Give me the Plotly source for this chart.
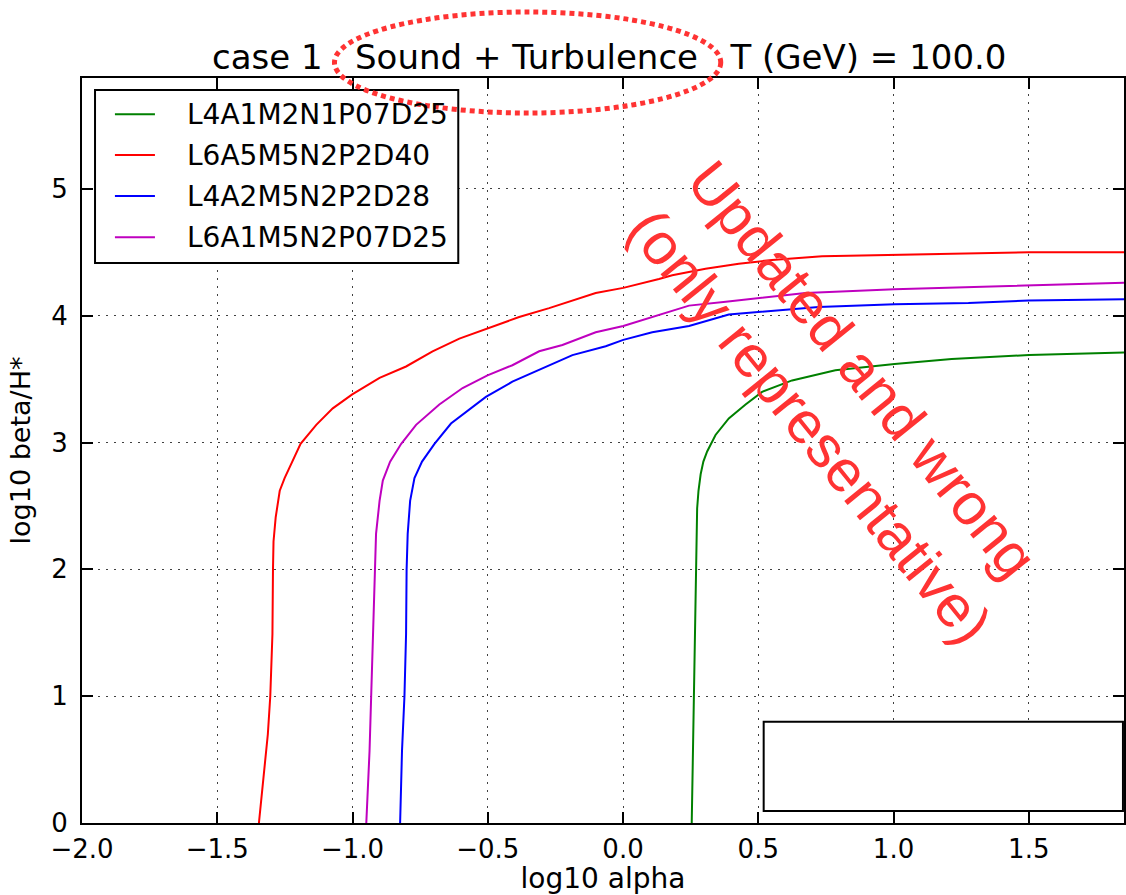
import plotly.graph_objects as go

# Series names (legend order) and colours
series_names = ["L4A1M2N1P07D25", "L6A5M5N2P2D40", "L4A2M5N2P2D28", "L6A1M5N2P07D25"]
series_colors = ["#008000", "#ff0000", "#0000ff", "#bf00bf"]

# log10 alpha / log10 beta/H* along each contour
green_x = [0.254, 0.258, 0.262, 0.266, 0.268, 0.274, 0.279, 0.287, 0.297, 0.311, 0.342, 0.391,
           0.453, 0.514, 0.625, 0.785, 1.004, 1.215, 1.501, 1.852]
green_y = [0.0, 0.5, 1.0, 1.43, 1.96, 2.48, 2.62, 2.75, 2.85, 2.93, 3.06, 3.19,
           3.30, 3.40, 3.49, 3.57, 3.62, 3.66, 3.69, 3.71]

red_x = [-1.346, -1.325, -1.313, -1.304, -1.296, -1.294, -1.292, -1.284, -1.269, -1.251,
         -1.223, -1.192, -1.134, -1.073, -1.001, -0.900, -0.802, -0.704, -0.605, -0.501,
         -0.384, -0.273, -0.187, -0.101, 0.001, 0.059, 0.133, 0.182, 0.305, 0.428,
         0.551, 0.736, 1.004, 1.501, 1.852]
red_y = [0.0, 0.44, 0.70, 1.00, 1.49, 2.00, 2.22, 2.41, 2.62, 2.72,
         2.85, 2.99, 3.14, 3.27, 3.38, 3.51, 3.60, 3.72, 3.82, 3.90,
         3.99, 4.06, 4.12, 4.18, 4.22, 4.25, 4.29, 4.32, 4.37, 4.41,
         4.44, 4.47, 4.48, 4.50, 4.50]

blue_x = [-0.824, -0.817, -0.808, -0.802, -0.800, -0.796, -0.787, -0.771, -0.743, -0.697,
          -0.636, -0.507, -0.409, -0.285, -0.187, -0.064, 0.001, 0.108, 0.244, 0.391,
          0.499, 0.723, 1.004, 1.277, 1.501, 1.852]
blue_y = [0.0, 0.57, 1.00, 1.49, 2.00, 2.28, 2.54, 2.72, 2.85, 2.99,
          3.15, 3.36, 3.48, 3.60, 3.69, 3.76, 3.81, 3.87, 3.92, 4.01,
          4.03, 4.07, 4.09, 4.10, 4.12, 4.13]

magenta_x = [-0.949, -0.937, -0.931, -0.925, -0.919, -0.913, -0.900, -0.888, -0.861, -0.820,
             -0.765, -0.679, -0.593, -0.501, -0.409, -0.310, -0.224, -0.101, 0.001, 0.108,
             0.244, 0.380, 0.499, 0.674, 1.004, 1.501, 1.852]
magenta_y = [0.0, 0.57, 1.00, 1.49, 2.00, 2.28, 2.54, 2.70, 2.85, 2.99,
             3.14, 3.30, 3.43, 3.53, 3.61, 3.72, 3.77, 3.87, 3.92, 3.99,
             4.08, 4.11, 4.14, 4.18, 4.21, 4.24, 4.26]

series_x = [green_x, red_x, blue_x, magenta_x]
series_y = [green_y, red_y, blue_y, magenta_y]

x_ticks = [-2.0, -1.5, -1.0, -0.5, 0.0, 0.5, 1.0, 1.5]
y_ticks = [0, 1, 2, 3, 4, 5]

title_text = "case 1\u00a0\u00a0\u00a0Sound + Turbulence\u00a0\u00a0\u00a0T (GeV) = 100.0"
note_text = "Updated and wrong<br>(only representative)"

FONT = "DejaVu Sans"
NOTE_RED = "#ff3333"

fig = go.Figure()
for name, color, xs, ys in zip(series_names, series_colors, series_x, series_y):
    fig.add_trace(go.Scatter(x=xs, y=ys, mode="lines", name=name,
                             line=dict(color=color, width=2), showlegend=False))

axis_common = dict(
    showline=True, linecolor="black", linewidth=2, mirror="ticks",
    ticks="inside", ticklen=11, tickwidth=1.5, tickcolor="black",
    showgrid=True, gridcolor="rgba(0,0,0,0.75)", gridwidth=1.3, griddash="2px,6px",
    zeroline=False, tickfont=dict(family=FONT, size=26, color="black"),
)

fig.update_layout(
    width=1126, height=895, autosize=False,
    margin=dict(l=82, r=0, t=78, b=72),
    plot_bgcolor="white", paper_bgcolor="white",
    title=dict(text=title_text, x=0.506, xref="paper", xanchor="center",
               y=1 - 57 / 895, yanchor="middle",
               font=dict(family=FONT, size=34, color="black")),
    xaxis=dict(range=[-2.0, 1.852], tickvals=x_ticks, tickformat=".1f",
               ticklabelstandoff=2,
               title=dict(text="log10 alpha", standoff=8,
                          font=dict(family=FONT, size=28, color="black")),
               **axis_common),
    yaxis=dict(range=[0, 5.875], tickvals=y_ticks, tickformat="d",
               ticklabelstandoff=7,
               title=dict(text="log10 beta/H*", standoff=13,
                          font=dict(family=FONT, size=27, color="black")),
               **axis_common),
)

# Legend box, drawn in the upper-left corner of the axes
leg_x0, leg_x1, leg_y0, leg_y1 = 0.0125, 0.3611, 0.7517, 0.9839
fig.add_shape(type="rect", xref="paper", yref="paper",
              x0=leg_x0, x1=leg_x1, y0=leg_y0, y1=leg_y1,
              fillcolor="white", line=dict(color="black", width=2), layer="above")
entry_y = [0.9513, 0.8966, 0.8416, 0.7862]
for name, color, ey in zip(series_names, series_colors, entry_y):
    fig.add_shape(type="line", xref="paper", yref="paper",
                  x0=0.0316, x1=0.0700, y0=ey, y1=ey,
                  line=dict(color=color, width=2), layer="above")
    fig.add_annotation(text=name, xref="paper", yref="paper", x=0.0987, y=ey,
                       xanchor="left", yanchor="middle", showarrow=False,
                       font=dict(family=FONT, size=28, color="black"))

# Empty boxed panel in the lower right
fig.add_shape(type="rect", xref="paper", yref="paper",
              x0=0.6542, x1=0.999, y0=0.0161, y1=0.136,
              fillcolor="white", line=dict(color="black", width=2), layer="above")

# Dotted ellipse highlighting the scenario in the title
fig.add_shape(type="circle", xref="paper", yref="paper",
              x0=0.2423, x1=0.613, y0=0.953, y1=1.0886,
              line=dict(color=NOTE_RED, width=5, dash="5px,4px"), layer="above")

# Diagonal red note across the plot
fig.add_annotation(text=note_text, xref="paper", yref="paper",
                   x=0.727, y=0.565, xanchor="center", yanchor="middle",
                   textangle=51, align="left", showarrow=False,
                   font=dict(family="Liberation Sans", size=59, color=NOTE_RED))

fig.write_html("out.html")
